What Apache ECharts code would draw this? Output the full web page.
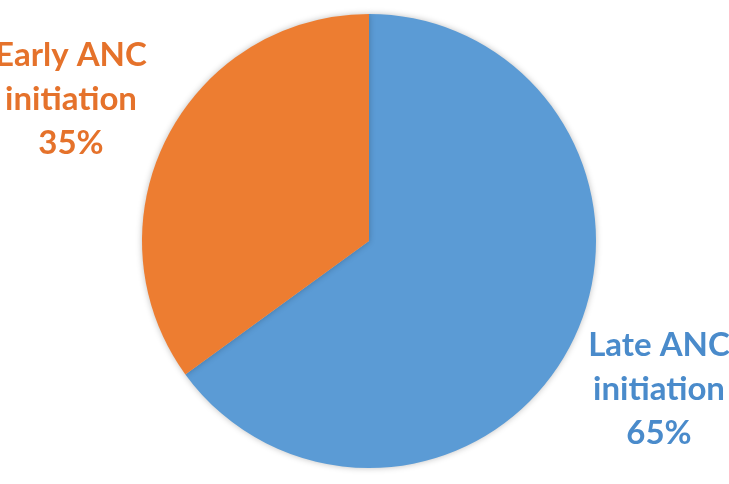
<!DOCTYPE html>
<html>
<head>
<meta charset="utf-8">
<script src="https://cdn.jsdelivr.net/npm/echarts@6/dist/echarts.min.js"></script>
<style>
  html, body { margin: 0; padding: 0; background: #fff; }
  #chart { width: 729px; height: 484px; }
</style>
</head>
<body>
<div id="chart"></div>
<script>
// data
var categories = ['Late ANC initiation', 'Early ANC initiation']
var shares = [65, 35]
var sliceColors = ['#5B9BD5', '#ED7D31']
var textColors = ['#4A8BCB', '#E5722B']

// where each label sits (centre of the text block)
var labelSpots = [
  { x: 659, y: 389 },
  { x: 71, y: 99 }
]

var myChart = echarts.init(document.getElementById('chart'))
var option = {
  animation: false,
  backgroundColor: '#fff',
  series: [
    {
      type: 'pie',
      center: [369, 241],
      radius: [0, 227],
      startAngle: 90,
      clockwise: true,
      data: categories.map(function (name, i) {
        return {
          name: name,
          value: shares[i],
          itemStyle: { color: sliceColors[i] },
          label: { color: textColors[i] }
        }
      }),
      itemStyle: {
        borderWidth: 0,
        shadowBlur: 6,
        shadowColor: 'rgba(0,0,0,0.25)'
      },
      label: {
        show: true,
        position: 'inside',
        overflow: 'none',
        fontFamily: 'Lato',
        fontWeight: 'bold',
        fontSize: 33,
        lineHeight: 44,
        align: 'center',
        formatter: function (p) {
          return p.name.replace(' initiation', '\ninitiation') + '\n' + p.value + '%'
        }
      },
      labelLine: { show: false },
      labelLayout: function (params) {
        var s = labelSpots[params.dataIndex]
        return { x: s.x, y: s.y, align: 'center', verticalAlign: 'middle', hideOverlap: false }
      },
      emphasis: { disabled: true }
    }
  ]
}
myChart.setOption(option)
</script>
</body>
</html>
